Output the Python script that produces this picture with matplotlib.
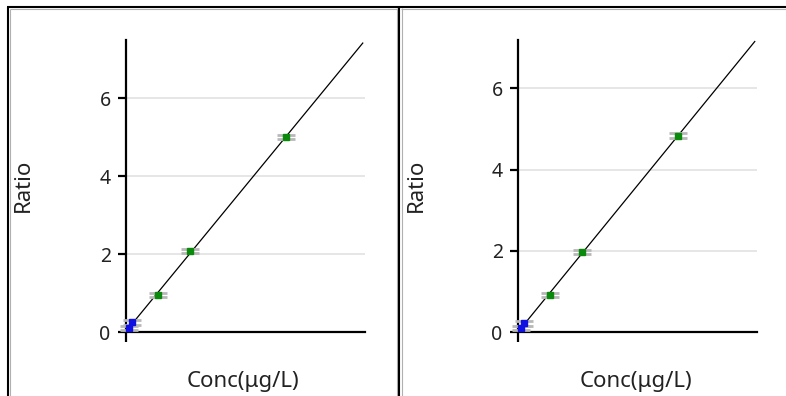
import numpy as np
import matplotlib
matplotlib.use("Agg")
import matplotlib.pyplot as plt
from matplotlib.lines import Line2D

plt.rcParams['font.family'] = ['Noto Sans', 'DejaVu Sans']

# Calibration data for the two panels
blank_conc = [0.1, 0.2]
std_conc = [1, 2, 5]

left_blank_ratio = [0.10, 0.25]
left_std_ratio = [0.95, 2.08, 5.00]
left_ymax = 7.49

right_blank_ratio = [0.10, 0.22]
right_std_ratio = [0.91, 1.97, 4.83]
right_ymax = 7.19

xmax = 7.47
line_end = 7.4
y_ticks = [0, 2, 4, 6]
err = 0.06

W, H = 786, 396
fig = plt.figure(figsize=(W / 100, H / 100), dpi=100)
fig.patch.set_facecolor('white')


def px_rect(x0, x1, ytop, ybot):
    return [x0 / W, 1 - ybot / H, (x1 - x0) / W, (ybot - ytop) / H]


def panel(rect, blank_y, std_y, ymax, ratio_x, conc_x):
    ax = fig.add_axes(rect)
    ax.set_xlim(0, xmax)
    ax.set_ylim(0, ymax)
    for s in ('top', 'right'):
        ax.spines[s].set_visible(False)
    for s in ('left', 'bottom'):
        ax.spines[s].set_color('black')
        ax.spines[s].set_linewidth(1.6)
    ax.set_yticks(y_ticks)
    ax.set_xticks([0])
    ax.set_xticklabels([''])
    ax.tick_params(axis='y', length=6, width=1.6, pad=5, labelsize=14,
                   labelcolor='#222222')
    ax.tick_params(axis='x', length=7, width=1.6)
    for t in y_ticks[1:]:
        ax.axhline(t, color='#e2e2e2', lw=1.2, zorder=0)

    xs = np.array(blank_conc + std_conc, dtype=float)
    ys = np.array(blank_y + std_y, dtype=float)
    slope, icpt = np.polyfit(xs, ys, 1)
    lx = np.array([0, line_end])
    ax.plot(lx, slope * lx + icpt, color='black', lw=0.9, zorder=2)

    ax.errorbar(std_conc, std_y, yerr=err, fmt='s', color='#0a8a0a',
                ms=5, ecolor='#b8b8b8', elinewidth=1, capsize=6.5,
                capthick=2, zorder=3, clip_on=False)
    ax.errorbar(blank_conc, blank_y, yerr=err, fmt='s', color='#1010e0',
                ms=5, ecolor='#b8b8b8', elinewidth=1, capsize=6.5,
                capthick=2, zorder=3, clip_on=False)

    fig.text(ratio_x / W, 1 - 185 / H, 'Ratio', rotation=90, ha='center',
             va='center', fontsize=16, color='#222222')
    fig.text(conc_x / W, 1 - 381 / H, 'Conc(μg/L)', ha='center',
             va='center', fontsize=16, color='#222222')
    return ax


panel(px_rect(126, 365, 40, 332), left_blank_ratio, left_std_ratio,
      left_ymax, 23, 243)
panel(px_rect(518, 757, 40, 332), right_blank_ratio, right_std_ratio,
      right_ymax, 416, 636)


def fline(xp, yp, color, lw):
    fig.add_artist(Line2D([x / W for x in xp], [1 - y / H for y in yp],
                          color=color, lw=lw, solid_capstyle='butt'))


# panel frames
fline([10, 10], [9, 396], '#b0b0b0', 0.8)
fline([10, 397], [9, 9], '#b0b0b0', 0.8)
fline([8, 8], [7, 396], 'black', 1.5)
fline([7, 786], [7, 7], 'black', 1.5)
fline([397, 397], [8, 396], '#b0b0b0', 0.8)
fline([401.5, 401.5], [8, 396], '#b0b0b0', 0.8)
fline([399.3, 399.3], [7, 396], 'black', 1.5)
fline([401, 786], [9, 9], '#b0b0b0', 0.8)

fig.savefig('out.png', dpi=100, facecolor='white')
